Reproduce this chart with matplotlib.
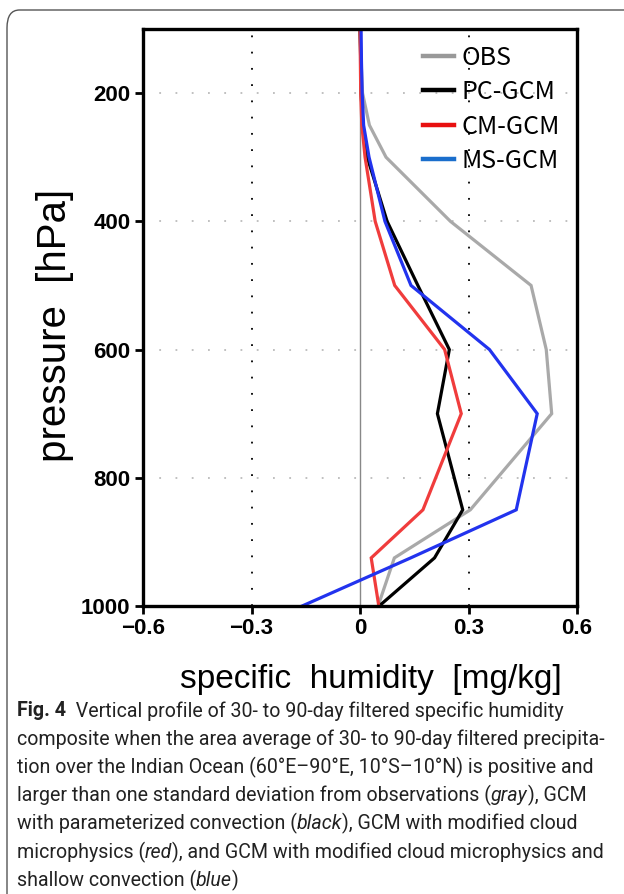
import matplotlib
matplotlib.use("Agg")
import matplotlib.pyplot as plt
from matplotlib.patches import FancyBboxPatch

# Data
LEVELS = [1000, 925, 850, 700, 600, 500, 400, 300, 250, 200, 150, 100]
OBS = [0.05, 0.095, 0.305, 0.53, 0.515, 0.473, 0.25, 0.072, 0.026, 0.007, 0.003, 0.0]
PC_GCM = [0.053, 0.206, 0.284, 0.214, 0.247, 0.16, 0.075, 0.02, 0.008, 0.003, 0.002, 0.0]
CM_GCM = [0.052, 0.031, 0.174, 0.28, 0.234, 0.096, 0.042, 0.014, 0.005, 0.002, 0.001, 0.0]
MS_GCM = [-0.16, 0.14, 0.432, 0.49, 0.358, 0.141, 0.069, 0.025, 0.01, 0.006, 0.004, 0.003]

SERIES = ["OBS", "PC-GCM", "CM-GCM", "MS-GCM"]
X_TICKS = [-0.6, -0.3, 0, 0.3, 0.6]
X_TICK_LABELS = ["\u22120.6", "\u22120.3", "0", "0.3", "0.6"]
Y_TICKS = [200, 400, 600, 800, 1000]

CAPTION = [
    [("Fig. 4", "bold"), ("  Vertical profile of 30- to 90-day filtered specific humidity", "normal")],
    [("composite when the area average of 30- to 90-day filtered precipita-", "normal")],
    [("tion over the Indian Ocean (60°E\u201390°E, 10°S\u201310°N) is positive and", "normal")],
    [("larger than one standard deviation from observations (", "normal"), ("gray", "italic"),
     ("), GCM", "normal")],
    [("with parameterized convection (", "normal"), ("black", "italic"), ("), GCM with modified cloud", "normal")],
    [("microphysics (", "normal"), ("red", "italic"), ("), and GCM with modified cloud microphysics and", "normal")],
    [("shallow convection (", "normal"), ("blue", "italic"), (")", "normal")],
]

W, H = 624, 894
fig = plt.figure(figsize=(W / 100, H / 100), dpi=100)

# rounded frame around figure + caption (runs off right and bottom edges)
frame = FancyBboxPatch((7 / W, -0.05), 1.2, (H - 10) / H + 0.05,
                       boxstyle="round,pad=0,rounding_size=0.02",
                       transform=fig.transFigure, fill=False,
                       edgecolor="#555555", linewidth=1.0)
fig.patches.append(frame)

ax = fig.add_axes([143 / W, (H - 606) / H, 434 / W, 577 / H])

colors = ["#a9a9a9", "black", "#f03c3c", "#2233ee"]
for name, vals, c in zip(SERIES, [OBS, PC_GCM, CM_GCM, MS_GCM], colors):
    ax.plot(vals, LEVELS, color=c, linewidth=2.3, label=name, solid_joinstyle="miter")

ax.axvline(0, color="#888888", linewidth=1.0, zorder=1)
for x in [-0.3, 0.3]:
    ax.axvline(x, color="black", linewidth=1.3, linestyle=(0, (1, 8)), zorder=0)
for y in [200, 400, 600, 800, 1000]:
    ax.axhline(y, color="#bbbbbb", linewidth=1.3, linestyle=(0, (1, 8)), zorder=0)

ax.set_xlim(-0.6, 0.6)
ax.set_ylim(1000, 100)
ax.set_xticks(X_TICKS)
ax.set_xticklabels(X_TICK_LABELS)
ax.set_yticks(Y_TICKS)
ax.tick_params(direction="out", length=6, width=2, pad=3)
for lab in ax.get_xticklabels() + ax.get_yticklabels():
    lab.set_family(["Liberation Sans", "DejaVu Sans"])
    lab.set_fontweight("bold")
    lab.set_fontsize(16)
for sp in ax.spines.values():
    sp.set_linewidth(2.4)

label_font = ["Liberation Sans", "DejaVu Sans"]
ax.set_xlabel("specific  humidity  [mg/kg]", fontsize=24, family=label_font)
ax.xaxis.set_label_coords(0.525, -0.1)
ax.set_ylabel("pressure  [hPa]", fontsize=29, family=label_font)
ax.yaxis.set_label_coords(-0.16, 0.487)

leg = ax.legend(loc="upper left", bbox_to_anchor=(0.645, 0.973), frameon=False,
                borderpad=0, borderaxespad=0,
                handlelength=1.25, handletextpad=0.3, labelspacing=0.34,
                prop={"family": ["Noto Sans CJK KR", "DejaVu Sans"], "size": 18})
leg_colors = ["#999999", "black", "#e81010", "#1a6ecc"]
for ln, c in zip(leg.get_lines(), leg_colors):
    ln.set_color(c)
    ln.set_linewidth(3.2)

# caption, drawn piece by piece so bold/italic words sit inline
fig.canvas.draw()
renderer = fig.canvas.get_renderer()
cap_font = ["Roboto", "Open Sans", "DejaVu Sans"]
probe = fig.text(0, 0, CAPTION[1][0][0], fontsize=14, family=cap_font)
cap_size = 14 * 593 / probe.get_window_extent(renderer).width
probe.remove()

y0, dy = 711, 28.2
for i, line in enumerate(CAPTION):
    x = 17 / W
    y = 1 - (y0 + i * dy) / H
    for txt, style in line:
        kw = {"fontweight": "bold"} if style == "bold" else {}
        if style == "italic":
            kw["fontstyle"] = "italic"
        t = fig.text(x, y, txt, fontsize=cap_size, family=cap_font, va="center",
                     ha="left", color="#222222", **kw)
        bb = t.get_window_extent(renderer)
        x = bb.x1 / W

fig.savefig("out.png", dpi=100)
